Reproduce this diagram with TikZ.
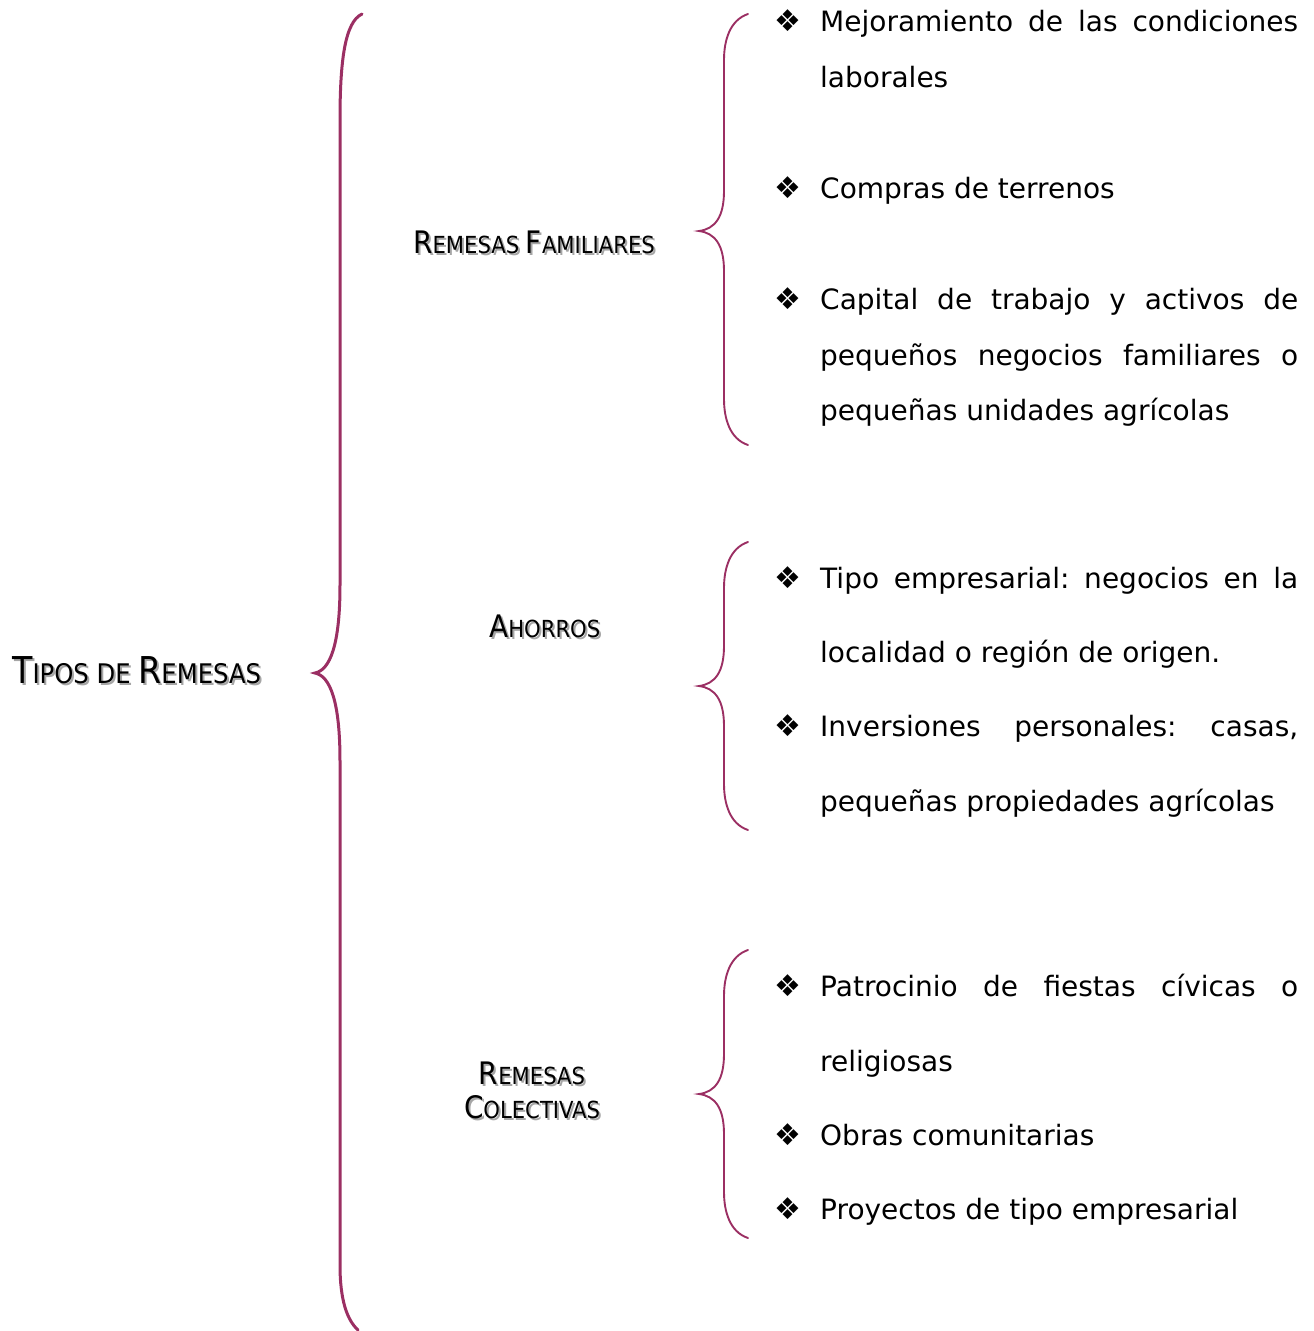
\documentclass[tikz,border=0pt]{standalone}
\usepackage{fontspec}
\setmainfont{DejaVu Sans}
\newfontfamily\condfont{DejaVu Sans Condensed}
\newfontfamily\symfont{DejaVu Sans}
\definecolor{brc}{RGB}{155,47,99}
\newcommand\Tsc[2]{#1{\fontsize{27}{27}\selectfont #2}}
\newcommand\Hsc[2]{#1{\fontsize{23.5}{23.5}\selectfont #2}}
\newcommand\jline[1]{\makebox[478pt][s]{#1}}
\frenchspacing
\tikzset{
  itemtxt/.style={anchor=base west, inner sep=0pt, font=\fontsize{28}{28}\selectfont},
  bul/.style={anchor=base, inner sep=0pt, font=\symfont\fontsize{30}{30}\selectfont},
  titlefont/.style={font=\condfont\fontsize{37}{37}\selectfont},
  headfont/.style={font=\condfont\fontsize{31}{31}\selectfont},
  head/.style={inner sep=0pt},
  headshadow/.style={inner sep=0pt, text=black!35},
  bigbr/.style={draw=brc, line width=3pt, line cap=round},
  smbr/.style={draw=brc, line width=1.9pt, line cap=round},
}
\newcommand\smbrace[3]{%
  \draw[smbr] (748,#1) .. controls (730,#1+6) and (724,#1+26) .. (724,#1+46)
     -- (724,#2-40) .. controls (724,#2-14) and (715,#2-2) .. (699,#2)
     .. controls (715,#2+2) and (724,#2+14) .. (724,#2+40)
     -- (724,#3-46) .. controls (724,#3-26) and (730,#3-6) .. (748,#3);}
\begin{document}
\begin{tikzpicture}[x=1pt,y=-1pt]
\useasboundingbox (0,0) rectangle (1314,1331);
% big brace
\draw[bigbr] (362,14) .. controls (345,22) and (340,60) .. (340,120)
  -- (340,585) .. controls (340,645) and (330,670) .. (315,673)
  .. controls (330,676) and (340,701) .. (340,761)
  -- (340,1265) .. controls (340,1300) and (347,1320) .. (358,1330);
% small braces
\smbrace{14}{231}{445}
\smbrace{542}{686}{830}
\smbrace{950}{1094}{1238}
% title
\node[headshadow, titlefont, anchor=base west] (titleS) at (14,685) {\Tsc{T}{IPOS DE }\Tsc{R}{EMESAS}};
\node[head, titlefont, anchor=base west] (title) at (12,683) {\Tsc{T}{IPOS DE }\Tsc{R}{EMESAS}};
% heads
\node[headshadow, headfont, anchor=base west] (h1S) at (415,255) {\Hsc{R}{EMESAS }\Hsc{F}{AMILIARES}};
\node[head, headfont, anchor=base west] (h1) at (413,253) {\Hsc{R}{EMESAS }\Hsc{F}{AMILIARES}};
\node[headshadow, headfont, anchor=base west] (h2S) at (491,639) {\Hsc{A}{HORROS}};
\node[head, headfont, anchor=base west] (h2) at (489,637) {\Hsc{A}{HORROS}};
\node[headshadow, headfont, anchor=base] (h3aS) at (534,1086) {\Hsc{R}{EMESAS}};
\node[head, headfont, anchor=base] (h3a) at (532,1084) {\Hsc{R}{EMESAS}};
\node[headshadow, headfont, anchor=base] (h3bS) at (534,1120) {\Hsc{C}{OLECTIVAS}};
\node[head, headfont, anchor=base] (h3b) at (532,1118) {\Hsc{C}{OLECTIVAS}};
% bullets
\foreach \n/\y in {b1/31,b2/198,b3/309,b4/588,b5/736,b6/996,b7/1145,b8/1219}
  \node[bul] (\n) at (788,\y) {❖};
% items
\node[itemtxt] (i1a) at (820,31) {\jline{Mejoramiento de las condiciones}};
\node[itemtxt] (i1b) at (820,87) {laborales};
\node[itemtxt] (i2) at (820,198) {Compras de terrenos};
\node[itemtxt] (i3a) at (820,309) {\jline{Capital de trabajo y activos de}};
\node[itemtxt] (i3b) at (820,365) {\jline{pequeños negocios familiares o}};
\node[itemtxt] (i3c) at (820,420) {pequeñas unidades agrícolas};
\node[itemtxt] (i4a) at (820,588) {\jline{Tipo empresarial: negocios en la}};
\node[itemtxt] (i4b) at (820,662) {localidad o región de origen.};
\node[itemtxt] (i5a) at (820,736) {\jline{Inversiones personales: casas,}};
\node[itemtxt] (i5b) at (820,811) {pequeñas propiedades agrícolas};
\node[itemtxt] (i6a) at (820,996) {\jline{Patrocinio de fiestas cívicas o}};
\node[itemtxt] (i6b) at (820,1071) {religiosas};
\node[itemtxt] (i7) at (820,1145) {Obras comunitarias};
\node[itemtxt] (i8) at (820,1219) {Proyectos de tipo empresarial};
\end{tikzpicture}
\end{document}
